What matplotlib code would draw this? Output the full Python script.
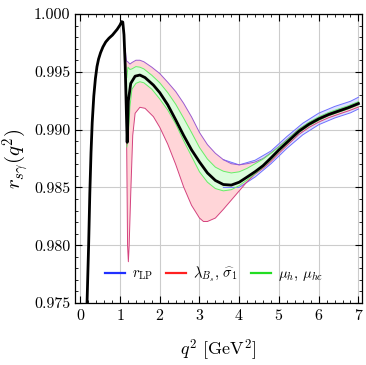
import numpy as np
import matplotlib
matplotlib.use("Agg")
import matplotlib.pyplot as plt
from matplotlib.ticker import MultipleLocator, FormatStrFormatter
from matplotlib.lines import Line2D

plt.rcParams['font.family'] = 'serif'
plt.rcParams['font.serif'] = ['cmr10', 'DejaVu Serif']
plt.rcParams['mathtext.fontset'] = 'cm'
plt.rcParams['axes.formatter.use_mathtext'] = True

# central value r_{s gamma}(q^2)
q_c = [0.15, 0.17, 0.21, 0.24, 0.27, 0.30, 0.34, 0.38, 0.42, 0.46, 0.51, 0.57, 0.64,
       0.72, 0.81, 0.93, 1.00, 1.04, 1.07, 1.10, 1.13, 1.16, 1.18, 1.21, 1.27, 1.38,
       1.50, 1.63, 1.84, 2.0, 2.2, 2.4, 2.6, 2.8, 3.0, 3.2, 3.4, 3.6, 3.8, 4.0, 4.2,
       4.4, 4.6, 4.8, 5.0, 5.25, 5.5, 5.75, 6.0, 6.25, 6.5, 6.75, 7.0]
r_c = [0.97200, 0.97500, 0.98000, 0.98450, 0.98800, 0.99060, 0.99290, 0.99440,
       0.99545, 0.99610, 0.99665, 0.99715, 0.99758, 0.99790, 0.99818, 0.99868,
       0.99905, 0.99934, 0.99930, 0.99820, 0.99560, 0.99150, 0.98890, 0.99250,
       0.99400, 0.99462, 0.99472, 0.99450, 0.99385, 0.99320, 0.99215, 0.99085,
       0.98950, 0.98825, 0.98720, 0.98625, 0.98560, 0.98525, 0.98520, 0.98545,
       0.98590, 0.98636, 0.98688, 0.98755, 0.98825, 0.98905, 0.98985, 0.99045,
       0.99092, 0.99130, 0.99160, 0.99190, 0.99225]

# lambda_Bs, sigma_1 band (red)
q_red_up = [1.13, 1.16, 1.20, 1.25, 1.30, 1.40, 1.50, 1.60, 1.80, 2.0, 2.2, 2.4, 2.6,
            2.8, 3.0, 3.2, 3.4, 3.6, 3.8, 4.0, 4.2, 4.4, 4.6, 4.8, 5.0, 5.25, 5.5,
            5.75, 6.0, 6.25, 6.5, 6.75, 7.0]
r_red_up = [0.99700, 0.99595, 0.99585, 0.99567, 0.99580, 0.99600, 0.99600, 0.99587,
            0.99540, 0.99485, 0.99410, 0.99330, 0.99228, 0.99110, 0.98975, 0.98870,
            0.98795, 0.98740, 0.98705, 0.98695, 0.98705, 0.98720, 0.98750, 0.98800,
            0.98855, 0.98930, 0.99005, 0.99060, 0.99105, 0.99142, 0.99172, 0.99200,
            0.99235]
q_red_lo = [1.13, 1.16, 1.19, 1.21, 1.23, 1.27, 1.32, 1.38, 1.50, 1.63, 1.84, 2.0,
            2.2, 2.4, 2.6, 2.8, 3.0, 3.1, 3.2, 3.4, 3.6, 3.8, 4.0, 4.2, 4.4, 4.6, 4.8,
            5.0, 5.25, 5.5, 5.75, 6.0, 6.25, 6.5, 6.75, 7.0]
r_red_lo = [0.99700, 0.99150, 0.98000, 0.97857, 0.98000, 0.98450, 0.98950, 0.99141,
            0.99193, 0.99184, 0.99112, 0.99020, 0.98875, 0.98700, 0.98505, 0.98345,
            0.98235, 0.98205, 0.98205, 0.98235, 0.98310, 0.98390, 0.98470, 0.98550,
            0.98615, 0.98665, 0.98725, 0.98795, 0.98878, 0.98958, 0.99018, 0.99065,
            0.99103, 0.99133, 0.99162, 0.99195]

# mu_h, mu_hc band (green)
q_grn = [1.17, 1.20, 1.25, 1.30, 1.40, 1.50, 1.60, 1.80, 2.0, 2.2, 2.4, 2.6, 2.8,
         3.0, 3.2, 3.4, 3.6, 3.8, 4.0, 4.2, 4.4, 4.6, 4.8, 5.0, 5.25, 5.5, 5.75, 6.0,
         6.25, 6.5, 6.75, 7.0]
r_grn_up = [0.99450, 0.99540, 0.99520, 0.99525, 0.99545, 0.99540, 0.99525, 0.99470,
            0.99405, 0.99320, 0.99220, 0.99100, 0.98975, 0.98845, 0.98745, 0.98675,
            0.98640, 0.98625, 0.98635, 0.98665, 0.98705, 0.98745, 0.98795, 0.98850,
            0.98925, 0.99003, 0.99062, 0.99110, 0.99148, 0.99178, 0.99207, 0.99242]
r_grn_lo = [0.98850, 0.98900, 0.99200, 0.99350, 0.99400, 0.99414, 0.99405, 0.99350,
            0.99265, 0.99170, 0.99050, 0.98905, 0.98770, 0.98635, 0.98545, 0.98490,
            0.98470, 0.98480, 0.98515, 0.98565, 0.98620, 0.98675, 0.98740, 0.98812,
            0.98893, 0.98973, 0.99033, 0.99080, 0.99120, 0.99150, 0.99180, 0.99215]

# r_LP band (blue)
q_blu = [3.6, 4.0, 4.4, 4.8, 5.2, 5.6, 6.0, 6.4, 6.8, 7.0]
r_blu_up = [0.98740, 0.98695, 0.98735, 0.98815, 0.98940, 0.99055, 0.99142, 0.99200,
            0.99245, 0.99280]
r_blu_lo = [0.98500, 0.98500, 0.98590, 0.98705, 0.98838, 0.98955, 0.99042, 0.99100,
            0.99145, 0.99178]

legend_labels = [r'$r_{\rm LP}$', r'$\lambda_{B_s},\,\widehat{\sigma}_1$', r'$\mu_h,\,\mu_{hc}$']

fig = plt.figure(figsize=(3.66, 3.65), dpi=100)
ax = fig.add_axes([75 / 366, 62 / 365, 287 / 366, 289 / 365])

# bands
ax.fill(np.r_[q_blu, q_blu[::-1]], np.r_[r_blu_up, r_blu_lo[::-1]],
        color='#dde2ff', lw=0, zorder=1)
ax.fill(np.r_[q_red_up, q_red_lo[::-1]], np.r_[r_red_up, r_red_lo[::-1]],
        color='#ffd5d8', lw=0, zorder=2)
ax.fill(np.r_[q_grn, q_grn[::-1]], np.r_[r_grn_up, r_grn_lo[::-1]],
        color='#dcfcdc', lw=0, zorder=3)

ax.plot(q_blu, r_blu_up, color='#6f6fff', lw=0.7, zorder=4)
ax.plot(q_blu, r_blu_lo, color='#6f6fff', lw=0.7, zorder=4)
ax.plot(q_red_up, r_red_up, color='#9a5ad0', lw=0.7, zorder=4)
ax.plot(q_red_lo, r_red_lo, color='#d4427e', lw=0.7, zorder=4)
ax.plot(q_grn, r_grn_up, color='#66ee66', lw=0.7, zorder=5)
ax.plot(q_grn, r_grn_lo, color='#66ee66', lw=0.7, zorder=5)

ax.plot(q_c, r_c, color='black', lw=2.0, zorder=6)

ax.set_xlim(-0.133, 7.09)
ax.set_ylim(0.975, 1.000)
ax.xaxis.set_major_locator(MultipleLocator(1))
ax.xaxis.set_minor_locator(MultipleLocator(0.2))
ax.yaxis.set_major_locator(MultipleLocator(0.005))
ax.yaxis.set_minor_locator(MultipleLocator(0.001))
ax.yaxis.set_major_formatter(FormatStrFormatter('%.3f'))
ax.grid(True, which='major', color='#cccccc', lw=0.8, zorder=0)
ax.tick_params(which='both', direction='in', top=True, right=True, labelsize=11.5)
ax.tick_params(which='major', length=5, width=0.8)
ax.tick_params(which='minor', length=2.5, width=0.6)
for s in ax.spines.values():
    s.set_linewidth(0.9)

ax.set_xlabel(r'$q^2$ [GeV$^2$]', fontsize=13, labelpad=11)
ax.set_ylabel(r'$r_{s\gamma}(q^2)$', fontsize=15, labelpad=2)

handles = [Line2D([], [], color='#2030ff', lw=1.6),
           Line2D([], [], color='#ff2020', lw=1.6),
           Line2D([], [], color='#22dd22', lw=1.6)]
ax.legend(handles, legend_labels, loc='lower center', bbox_to_anchor=(0.485, 0.02),
          ncol=3, frameon=False, fontsize=10.5, handlelength=1.37, handletextpad=0.48,
          columnspacing=0.9)

fig.savefig('out.png', dpi=100)
